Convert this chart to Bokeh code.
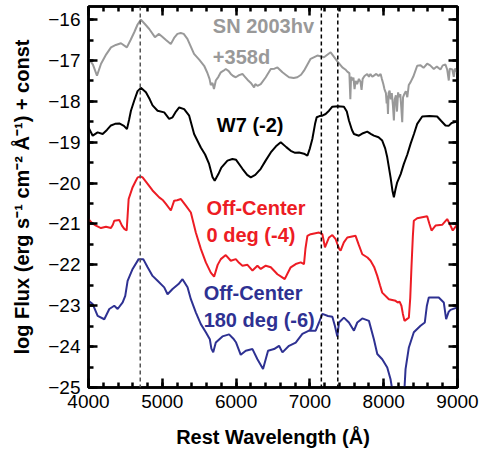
from bokeh.plotting import figure
from bokeh.models import Range1d, LinearAxis, SingleIntervalTicker, Span, Label
from bokeh.embed import file_html
from bokeh.resources import INLINE

# Spectra: rest wavelength (Angstrom) and log flux + offset
sn_wl = [4000, 4060, 4115, 4170, 4240, 4305, 4370, 4440, 4520, 4570, 4620, 4665, 4710, 4770,
         4823, 4900, 4955, 5000, 5050, 5115, 5160, 5205, 5250, 5290, 5340, 5430, 5500, 5567,
         5610, 5640, 5657, 5680, 5700, 5725, 5760, 5793, 5830, 5860, 5900, 5928, 5960, 5996,
         6040, 6086, 6120, 6154, 6200, 6244, 6260, 6290, 6334, 6402, 6470, 6520, 6560, 6628,
         6680, 6717, 6780, 6830, 6880, 6920, 7010, 7101, 7191, 7281, 7372, 7440, 7480, 7510,
         7535, 7548, 7558, 7575, 7590, 7605, 7620, 7640, 7664, 7685, 7700, 7715, 7740, 7777,
         7800, 7820, 7845, 7867, 7900, 7930, 7958, 7975, 7994, 8010, 8030, 8040, 8048, 8058,
         8066, 8080, 8095, 8110, 8125, 8138, 8150, 8165, 8180, 8195, 8210, 8225, 8240, 8251,
         8262, 8280, 8300, 8320, 8340, 8364, 8400, 8454, 8500, 8540, 8589, 8630, 8679, 8720,
         8769, 8800, 8837, 8860, 8882, 8895, 8930, 8950, 8965, 9000]
sn_flux = [-16.95, -17.10, -17.37, -17.08, -16.85, -16.68, -16.62, -16.58, -16.68, -16.50,
           -16.31, -16.12, -16.00, -16.12, -16.23, -16.43, -16.35, -16.42, -16.50, -16.60,
           -16.45, -16.35, -16.33, -16.35, -16.47, -16.84, -16.98, -17.13, -17.30, -17.45,
           -17.60, -17.55, -17.70, -17.49, -17.40, -17.29, -17.25, -17.21, -17.26, -17.33,
           -17.38, -17.41, -17.36, -17.33, -17.40, -17.47, -17.55, -17.66, -17.58, -17.62,
           -17.58, -17.41, -17.21, -17.20, -17.17, -17.29, -17.36, -17.41, -17.43, -17.41,
           -17.35, -17.25, -16.96, -16.88, -16.92, -16.80, -17.02, -17.17, -17.22, -17.28,
           -17.31, -17.95, -17.40, -17.49, -17.42, -17.70, -17.50, -17.58, -17.45, -17.52,
           -17.72, -17.45, -17.38, -17.33, -17.40, -17.33, -17.40, -17.37, -17.33, -17.38,
           -17.33, -17.45, -17.57, -17.70, -17.80, -18.05, -17.86, -18.31, -17.80, -17.74,
           -17.95, -17.80, -18.10, -18.47, -17.95, -17.85, -18.25, -17.78, -17.90, -17.82,
           -18.20, -18.51, -17.90, -17.82, -17.75, -17.90, -17.60, -17.53, -17.40, -17.13,
           -17.12, -17.18, -17.08, -17.12, -17.21, -17.15, -17.22, -17.12, -17.10, -17.22,
           -17.49, -17.20, -17.22, -17.40, -17.20, -17.30]

w7_wl = [4000, 4057, 4124, 4192, 4250, 4304, 4360, 4417, 4480, 4521, 4550, 4575, 4620, 4665,
         4710, 4778, 4830, 4868, 4936, 5026, 5093, 5139, 5185, 5229, 5296, 5364, 5431, 5522,
         5580, 5634, 5680, 5710, 5760, 5800, 5883, 5950, 6000, 6086, 6150, 6199, 6260, 6334,
         6400, 6470, 6540, 6605, 6680, 6740, 6800, 6853, 6920, 6966, 7000, 7033, 7070, 7092,
         7130, 7169, 7213, 7259, 7304, 7380, 7461, 7500, 7529, 7570, 7597, 7664, 7720, 7777,
         7830, 7867, 7930, 7980, 8020, 8048, 8093, 8120, 8138, 8160, 8183, 8230, 8273, 8320,
         8364, 8410, 8454, 8522, 8620, 8724, 8780, 8837, 8880, 8920, 9000]
w7_flux = [-18.64, -18.84, -18.76, -18.80, -18.70, -18.59, -18.55, -18.54, -18.60, -18.68,
           -18.45, -18.23, -17.98, -17.75, -17.67, -17.78, -17.95, -18.10, -18.23, -18.27,
           -18.43, -18.39, -18.25, -18.15, -18.19, -18.35, -18.80, -19.13, -19.30, -19.53,
           -19.85, -19.94, -19.78, -19.62, -19.45, -19.41, -19.43, -19.65, -19.80, -19.86,
           -19.80, -19.65, -19.45, -19.25, -19.10, -19.00, -19.12, -19.21, -19.26, -19.25,
           -19.28, -19.33, -19.15, -18.92, -18.55, -18.39, -18.36, -18.35, -18.31, -18.23,
           -18.13, -18.12, -18.13, -18.25, -18.47, -18.70, -18.80, -18.84, -18.78, -18.74,
           -18.80, -18.84, -18.88, -18.96, -19.15, -19.37, -19.86, -20.20, -20.35, -20.15,
           -19.98, -19.78, -19.53, -19.30, -19.04, -18.80, -18.55, -18.37, -18.36, -18.37,
           -18.48, -18.59, -18.60, -18.53, -18.49]

oc0_wl = [4000, 4050, 4101, 4169, 4237, 4304, 4330, 4349, 4417, 4453, 4485, 4517, 4530, 4544,
          4598, 4640, 4666, 4710, 4733, 4801, 4868, 4958, 5010, 5049, 5116, 5161, 5200, 5252,
          5319, 5387, 5454, 5522, 5590, 5657, 5702, 5750, 5793, 5860, 5928, 5996, 6040, 6086,
          6154, 6222, 6289, 6334, 6402, 6470, 6560, 6620, 6659, 6700, 6740, 6808, 6876, 6920,
          6940, 6966, 7010, 7123, 7169, 7204, 7259, 7304, 7349, 7372, 7400, 7416, 7460, 7507,
          7619, 7660, 7710, 7780, 7822, 7870, 7913, 7950, 7980, 8070, 8161, 8190, 8215, 8240,
          8260, 8282, 8341, 8360, 8377, 8395, 8408, 8454, 8589, 8620, 8648, 8702, 8792, 8860,
          8900, 8936, 9000]
oc0_flux = [-20.88, -20.98, -21.04, -21.10, -21.07, -21.10, -21.02, -20.92, -20.90, -21.04,
            -21.12, -21.16, -20.80, -20.39, -20.10, -19.95, -19.86, -19.84, -19.86, -20.02,
            -20.18, -20.35, -20.42, -20.51, -20.67, -20.43, -20.42, -20.39, -20.55, -20.72,
            -21.21, -21.61, -21.94, -22.19, -22.29, -22.00, -21.86, -21.76, -21.90, -21.86,
            -21.95, -22.02, -22.00, -22.14, -22.02, -22.10, -22.02, -22.06, -22.23, -22.30,
            -22.35, -22.20, -22.06, -21.98, -21.94, -21.98, -21.60, -21.29, -21.25, -21.21,
            -21.25, -21.57, -21.33, -21.27, -21.37, -21.49, -21.62, -21.65, -21.45, -21.33,
            -21.29, -21.50, -21.74, -21.82, -21.90, -22.05, -22.27, -22.50, -22.68, -22.84,
            -22.88, -22.92, -22.90, -23.00, -23.20, -23.37, -23.29, -22.80, -22.02, -21.30,
            -20.92, -20.86, -20.81, -21.00, -21.16, -21.04, -21.02, -20.88, -21.02, -21.16,
            -21.00]

oc180_wl = [4000, 4057, 4090, 4124, 4214, 4282, 4349, 4395, 4463, 4498, 4530, 4598, 4679, 4742,
            4801, 4868, 4936, 5026, 5071, 5139, 5220, 5274, 5342, 5387, 5454, 5522, 5590, 5644,
            5665, 5690, 5725, 5815, 5905, 5960, 6000, 6063, 6131, 6222, 6289, 6365, 6433, 6514,
            6582, 6628, 6717, 6808, 6898, 6988, 7078, 7123, 7169, 7245, 7304, 7340, 7372, 7394,
            7461, 7529, 7597, 7642, 7710, 7800, 7867, 7913, 7980, 8048, 8093, 8138, 8200, 8273,
            8296, 8341, 8408, 8499, 8557, 8585, 8611, 8746, 8814, 8846, 8880, 8905, 9000]
oc180_flux = [-22.88, -22.96, -23.10, -23.25, -23.33, -23.08, -23.00, -23.08, -22.92, -22.76,
              -22.39, -22.10, -21.86, -21.86, -22.06, -22.27, -22.39, -22.55, -22.72, -22.59,
              -22.47, -22.35, -22.55, -22.84, -23.16, -23.45, -23.65, -23.82, -24.05, -24.14,
              -23.90, -23.75, -23.70, -23.80, -23.90, -24.20, -24.10, -24.06, -24.31, -24.55,
              -24.10, -24.06, -23.98, -24.14, -23.98, -23.90, -23.69, -23.61, -23.61, -23.41,
              -23.20, -23.25, -23.27, -23.50, -23.75, -23.41, -23.29, -23.41, -23.61, -23.41,
              -23.31, -23.37, -23.82, -24.18, -24.31, -24.51, -24.80, -25.30, -25.60, -25.30,
              -24.55, -24.02, -23.65, -23.49, -23.41, -23.00, -22.80, -22.80, -22.92, -23.33,
              -23.15, -23.10, -23.04]

# Line identifications marked with dashed verticals
line_ids = [4701, 7155, 7378]

FONT = "Liberation Sans"
GRAY = "#999999"
RED = "#ed1c24"
NAVY = "#2e3192"

p = figure(width=480, height=451, output_backend="svg", toolbar_location=None,
           x_range=Range1d(4000, 9000), y_range=Range1d(-25, -15.68),
           min_border_left=88, min_border_right=23, min_border_top=6, min_border_bottom=64,
           x_axis_label="Rest Wavelength (Å)",
           y_axis_label="log Flux (erg s⁻¹ cm⁻² Å⁻¹) + const")
p.grid.visible = False
p.outline_line_color = "black"
p.outline_line_width = 2.5
p.background_fill_color = "white"
p.border_fill_color = "white"

xt = SingleIntervalTicker(interval=1000, num_minor_ticks=5)
yt = SingleIntervalTicker(interval=1, num_minor_ticks=2)
p.below[0].ticker = xt
p.left[0].ticker = yt

# tick marks on the top and right edges of the frame, without labels
p.add_layout(LinearAxis(ticker=xt), "above")
p.add_layout(LinearAxis(ticker=yt), "right")

for ax in p.axis:
    ax.axis_line_width = 2.5
    ax.major_tick_in = 9
    ax.major_tick_out = 0
    ax.minor_tick_in = 5
    ax.minor_tick_out = 0
    ax.major_tick_line_width = 2.5
    ax.minor_tick_line_width = 2.5
    ax.major_label_text_font = FONT
    ax.major_label_text_font_size = "19px"
    ax.major_label_text_color = "black"
    ax.axis_label_text_font = FONT
    ax.axis_label_text_font_style = "bold"
    ax.axis_label_text_font_size = "20px"
    ax.axis_label_text_color = "black"

for ax in p.above + p.right:
    ax.major_label_text_font_size = "1px"
    ax.major_label_text_color = None
    ax.major_label_standoff = 0
    ax.axis_label = None

xaxis = p.below[0]
yaxis = p.left[0]
xaxis.major_label_standoff = 7
xaxis.axis_label_standoff = 15
yaxis.major_label_standoff = 8
yaxis.axis_label_standoff = 12

for wl, col in zip(line_ids, ["#555555", "black", "black"]):
    p.add_layout(Span(location=wl, dimension="height", line_color=col,
                      line_width=1.5, line_dash="4 3"))

p.line(sn_wl, sn_flux, line_color=GRAY, line_width=2)
p.line(w7_wl, w7_flux, line_color="black", line_width=2)
p.line(oc0_wl, oc0_flux, line_color=RED, line_width=2)
p.line(oc180_wl, oc180_flux, line_color=NAVY, line_width=2)

labels = [
    ("SN 2003hv", 5685, -16.15, GRAY),
    ("+358d", 5685, -16.91, GRAY),
    ("W7 (-2)", 5739, -18.58, "black"),
    ("Off-Center", 5600, -20.60, RED),
    ("0 deg (-4)", 5600, -21.26, RED),
    ("Off-Center", 5560, -22.68, NAVY),
    ("180 deg (-6)", 5560, -23.34, NAVY),
]
for txt, x, y, col in labels:
    p.add_layout(Label(x=x, y=y, text=txt, text_color=col, text_font=FONT,
                       text_font_style="bold", text_font_size="20px",
                       text_baseline="middle", text_align="left"))

open("out.html", "w").write(file_html(p, INLINE))
